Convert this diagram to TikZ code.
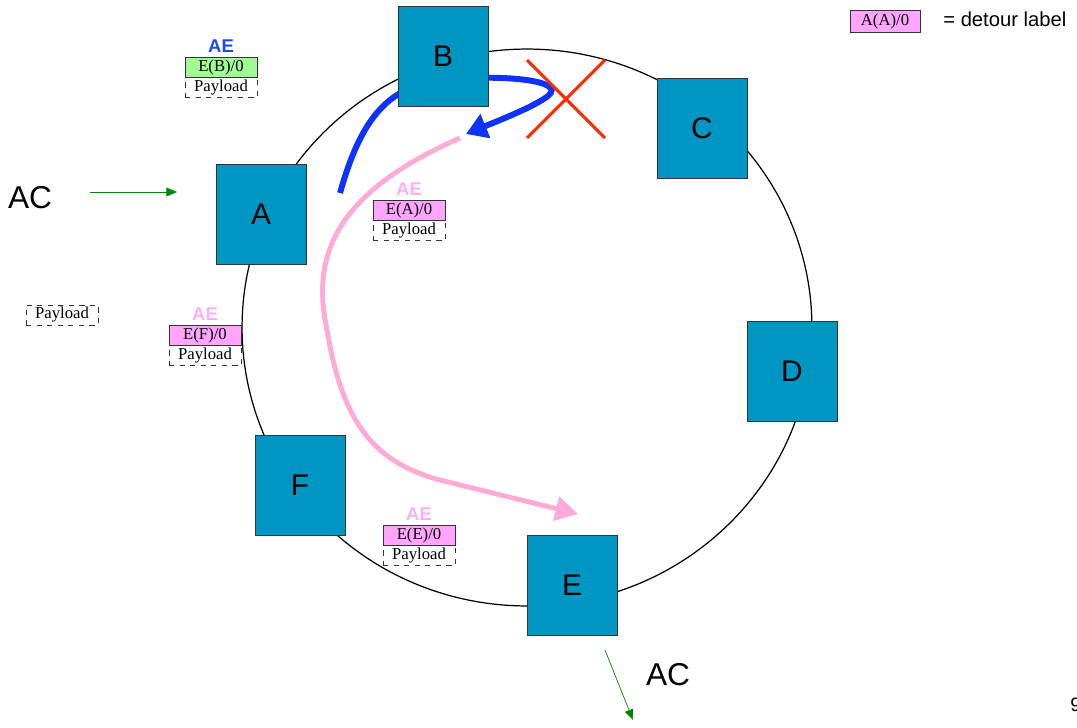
\documentclass[tikz,border=0pt]{standalone}
\usepackage{fontspec}
\setmainfont{Liberation Serif}
\setsansfont{Liberation Sans}
\usepackage{xcolor}
\usetikzlibrary{arrows.meta,positioning}

\definecolor{nodeteal}{RGB}{0,150,195}
\definecolor{lblpink}{RGB}{255,165,255}
\definecolor{lblgreen}{RGB}{160,250,150}
\definecolor{aepink}{RGB}{255,175,250}
\definecolor{aeblue}{RGB}{25,75,230}
\definecolor{flowblue}{RGB}{15,50,255}
\definecolor{flowpink}{RGB}{255,170,215}
\definecolor{crossred}{RGB}{255,40,0}
\definecolor{acgreen}{RGB}{0,135,0}

\begin{document}
\begin{tikzpicture}[x=0.02cm, y=-0.02cm,
  router/.style={draw=black!80, fill=nodeteal, minimum width=1.8cm, minimum height=2cm,
    inner sep=0pt, font=\sffamily\fontsize{17}{17}\selectfont},
  lbl/.style={draw=black!80, minimum width=1.44cm, minimum height=0.4cm, inner sep=0pt,
    font=\fontsize{9.5}{10}\selectfont},
  pay/.style={lbl, dashed, fill=white},
  ae/.style={font=\sffamily\bfseries\fontsize{10.5}{11}\selectfont, inner sep=1pt},
  acl/.style={font=\sffamily\fontsize{18}{18}\selectfont},
  acarrow/.style={->, >={Triangle[length=6pt,width=5pt]}, acgreen, thin}]
  \useasboundingbox (0,0) rectangle (1077,727);

  % ring
  \draw[black, line width=0.7pt] (527,327.5) ellipse [x radius=5.7cm, y radius=5.57cm];

  % flows (drawn under the routers)
  \draw[flowblue, line width=3.4pt, -{Triangle[length=0.42cm,width=0.5cm]}]
    (340,193) .. controls (362,115) and (390,86) .. (443,80)
    .. controls (500,74) and (568,80) .. (548,96)
    .. controls (535,106) and (505,118) .. (466,134);
  \draw[flowpink, line width=2.8pt, -{Triangle[length=0.45cm,width=0.48cm]}]
    (460,138) .. controls (330,195) and (312,260) .. (327,330)
    .. controls (342,420) and (372,462) .. (440,480) -- (578,514);

  % routers
  \node[router] (A) at (261,214) {A};
  \node[router] (B) at (443,56) {B};
  \node[router] (C) at (702,128) {C};
  \node[router] (D) at (792,371) {D};
  \node[router] (E) at (572,585) {E};
  \node[router] (F) at (300,485) {F};

  % failed link
  \draw[crossred, line width=1.7pt] (527,60) -- (605,138) (605,60) -- (527,138);

  % packets
  \node[lbl, fill=lblgreen] (lb) at (221,67) {E(B)/0};
  \node[pay, below=0pt of lb] (pb) {Payload};
  \node[ae, aeblue, above=1pt of lb] (aeb) {AE};

  \node[lbl, fill=lblpink] (la) at (409,210) {E(A)/0};
  \node[pay, below=0pt of la] (pa) {Payload};
  \node[ae, aepink, above=1pt of la] (aea) {AE};

  \node[lbl, fill=lblpink] (lf) at (205,335) {E(F)/0};
  \node[pay, below=0pt of lf] (pf) {Payload};
  \node[ae, aepink, above=1pt of lf] (aef) {AE};

  \node[lbl, fill=lblpink] (le) at (419,535) {E(E)/0};
  \node[pay, below=0pt of le] (pe) {Payload};
  \node[ae, aepink, above=1pt of le] (aee) {AE};

  \node[pay] (p0) at (62,315) {Payload};

  % legend
  \node[lbl, fill=lblpink, minimum width=1.4cm, minimum height=0.44cm] (key) at (885,21) {A(A)/0};
  \node[anchor=west, font=\sffamily\fontsize{11.5}{12}\selectfont, inner sep=0pt] (keytxt) at (943,19) {= detour label};

  % attachment circuits
  \node[acl] (acin) at (30,198) {AC};
  \coordinate (acins) at (90,192);
  \coordinate (acine) at (177,192);
  \draw[acarrow] (acins) -- (acine);
  \node[acl] (acout) at (668,675) {AC};
  \coordinate (acouts) at (605,650);
  \coordinate (acoute) at (633,720);
  \draw[acarrow] (acouts) -- (acoute);

  \node[anchor=west, font=\sffamily\fontsize{11}{11}\selectfont, inner sep=0pt] (pg) at (1070,705) {9};
\end{tikzpicture}
\end{document}
